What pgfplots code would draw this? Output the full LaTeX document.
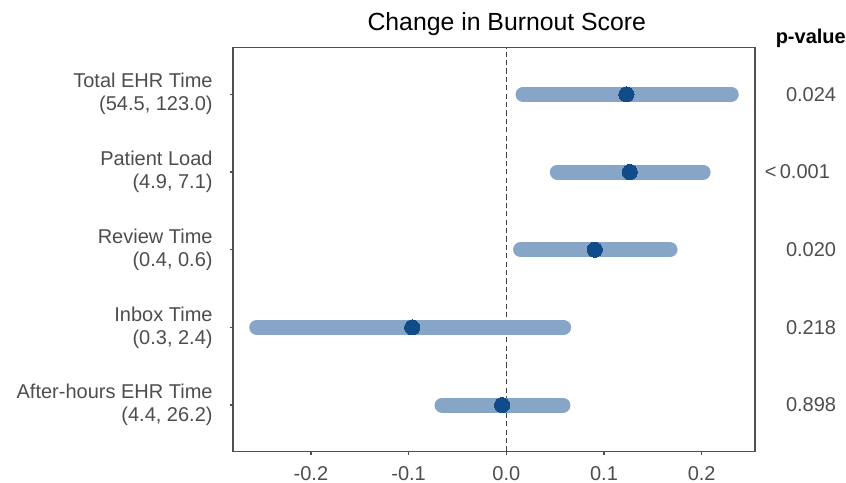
\documentclass[border=0pt]{standalone}
\usepackage{pgfplots}
\pgfplotsset{compat=1.18}
\usepackage{pgfplotstable}
\usepackage{fontspec}
\setmainfont{Liberation Sans}
\usetikzlibrary{calc}
\definecolor{barc}{RGB}{135,165,198}
\definecolor{ptc}{RGB}{16,76,138}
\definecolor{txt}{RGB}{77,77,77}
\definecolor{axc}{RGB}{80,80,80}

\pgfplotstableread{
y est lo hi
5 0.1230 0.0171 0.2303
4 0.1264 0.0522 0.2015
3 0.0906 0.0146 0.1676
2 -0.0964 -0.2555 0.0587
1 -0.0043 -0.0658 0.0580
}\data

\begin{document}
\begin{tikzpicture}
\begin{axis}[
  name=ax,
  scale only axis,
  width=261bp, height=202bp,
  xmin=-0.2798, xmax=0.2546,
  ymin=0.4, ymax=5.6,
  clip=false,
  axis line style={axc, line width=0.6bp},
  tick style={axc, line width=0.6bp},
  major tick length=1.7bp,
  tick align=outside,
  xtick={-0.2,-0.1,0,0.1,0.2},
  xticklabels={-0.2,-0.1,0.0,0.1,0.2},
  ytick={1,2,3,4,5},
  yticklabels={{After-hours EHR Time\\(4.4, 26.2)},{Inbox Time\\(0.3, 2.4)},{Review Time\\(0.4, 0.6)},{Patient Load\\(4.9, 7.1)},{Total EHR Time\\(54.5, 123.0)}},
  xtick pos=bottom, ytick pos=left,
  xticklabel style={font=\fontsize{10bp}{12bp}\selectfont, text=txt, inner sep=0pt, anchor=north, yshift=-5.5bp},
  yticklabel style={font=\fontsize{10bp}{11.5bp}\selectfont, text=txt, align=right, inner sep=0pt, anchor=east, xshift=-8.3bp},
]
\addplot[black!75, line width=0.8bp, dash pattern=on 2.6bp off 1.6bp] coordinates {(0,0.4) (0,5.6)};
\addplot[draw=none, mark=none,
  error bars/.cd, x dir=both, x explicit, error mark=none,
  error bar style={barc, line width=7.5bp, line cap=round}]
  table[x=est, y=y, x error plus expr=\thisrow{hi}-\thisrow{est}, x error minus expr=\thisrow{est}-\thisrow{lo}] {\data};
\addplot[only marks, mark=*, mark size=3.8bp, mark options={fill=ptc, draw=ptc, line width=0pt}] table[x=est, y=y] {\data};
\node[anchor=base, inner sep=0pt, font=\fontsize{12.4bp}{14bp}\selectfont] at (axis cs:0.0005,5.819) {Change in Burnout Score};
\node[anchor=base, inner sep=0pt, font=\fontsize{10bp}{12bp}\selectfont\bfseries] at (axis cs:0.3117,5.66) {p-value};
\node[anchor=east, inner sep=0pt, text=txt, font=\fontsize{10bp}{12bp}\selectfont] at (axis cs:0.338,5) {0.024};
\node[anchor=east, inner sep=0pt, text=txt, font=\fontsize{10bp}{12bp}\selectfont] at (axis cs:0.3317,4) {<\,0.001};
\node[anchor=east, inner sep=0pt, text=txt, font=\fontsize{10bp}{12bp}\selectfont] at (axis cs:0.338,3) {0.020};
\node[anchor=east, inner sep=0pt, text=txt, font=\fontsize{10bp}{12bp}\selectfont] at (axis cs:0.338,2) {0.218};
\node[anchor=east, inner sep=0pt, text=txt, font=\fontsize{10bp}{12bp}\selectfont] at (axis cs:0.338,1) {0.898};
\end{axis}
\pgfresetboundingbox
\path[use as bounding box] ($(ax.south west)+(-116.5bp,-15.65bp)$) rectangle ($(ax.south west)+(306.5bp,225.85bp)$);
\end{tikzpicture}
\end{document}
